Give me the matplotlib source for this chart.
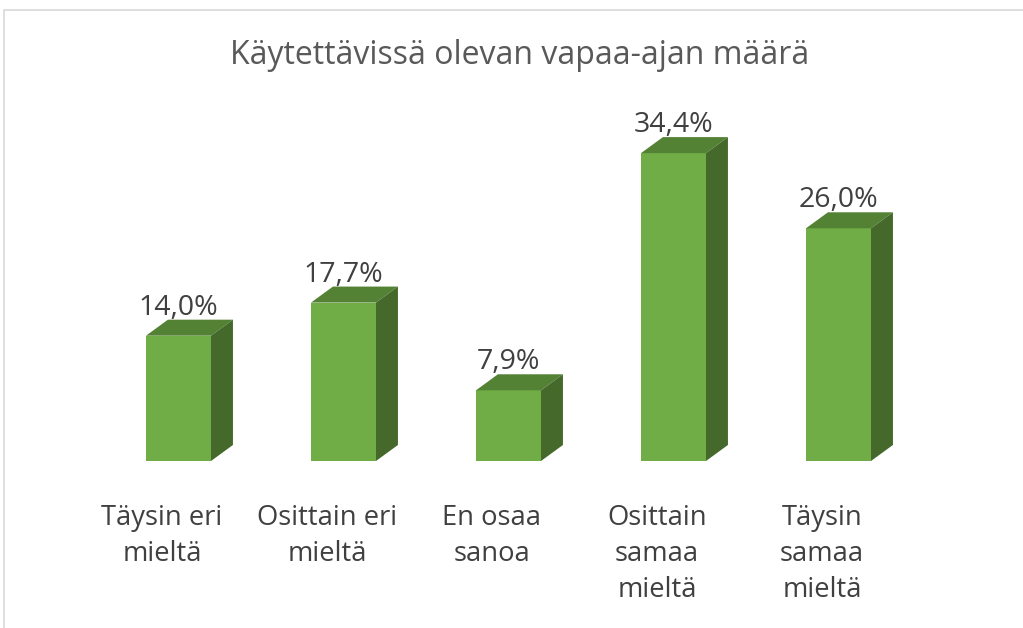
import matplotlib.pyplot as plt
from matplotlib.patches import Polygon, Rectangle

categories = ["Täysin eri\nmieltä", "Osittain eri\nmieltä", "En osaa\nsanoa",
              "Osittain\nsamaa\nmieltä", "Täysin\nsamaa\nmieltä"]
values = [14.0, 17.7, 7.9, 34.4, 26.0]
value_labels = ["14,0%", "17,7%", "7,9%", "34,4%", "26,0%"]
title = "Käytettävissä olevan vapaa-ajan määrä"

front_col = "#70AD47"
top_col = "#548235"
side_col = "#44692A"
text_col = "#404040"

plt.rcParams['font.family'] = ['Open Sans', 'DejaVu Sans']

W, H = 1023, 628
fig = plt.figure(figsize=(W / 100, H / 100), dpi=100)
ax = fig.add_axes([96 / W, 167 / H, 825 / W, 358 / H])
ax.set_xlim(-0.5, 4.5)
ax.set_ylim(0, 40)
ax.axis('off')

half_w = 0.197   # half bar width in category units
dx = 0.133       # 3d depth, x
dy = 1.79        # 3d depth, y (percent units)

for i, v in enumerate(values):
    x0, x1 = i - half_w, i + half_w
    # front face
    ax.add_patch(Polygon([(x0, 0), (x1, 0), (x1, v), (x0, v)], closed=True,
                         facecolor=front_col, edgecolor='none'))
    # top face
    ax.add_patch(Polygon([(x0, v), (x1, v), (x1 + dx, v + dy), (x0 + dx, v + dy)],
                         closed=True, facecolor=top_col, edgecolor='none'))
    # side face
    ax.add_patch(Polygon([(x1, 0), (x1 + dx, dy), (x1 + dx, v + dy), (x1, v)],
                         closed=True, facecolor=side_col, edgecolor='none'))
    ax.annotate(value_labels[i], xy=(i, v + dy), xytext=(0, 3.5), textcoords='offset points',
                ha='center', va='baseline', fontsize=20.5, color=text_col)
    ax.annotate(categories[i], xy=(i - 0.1, 0), xytext=(0, -31), textcoords='offset points',
                ha='center', va='top', fontsize=19.7, color=text_col, linespacing=1.37,
                annotation_clip=False)

fig.text(520 / W, 1 - 56 / H, title, ha='center', va='center', fontsize=23, color="#595959")

# chart frame (partly cropped in the original)
fig.add_artist(Rectangle((4 / W, -0.1), 1.2, (H - 10) / H + 0.1, transform=fig.transFigure,
                         facecolor='none', edgecolor='#D9D9D9', linewidth=1.2))

fig.savefig("out.png", dpi=100)
